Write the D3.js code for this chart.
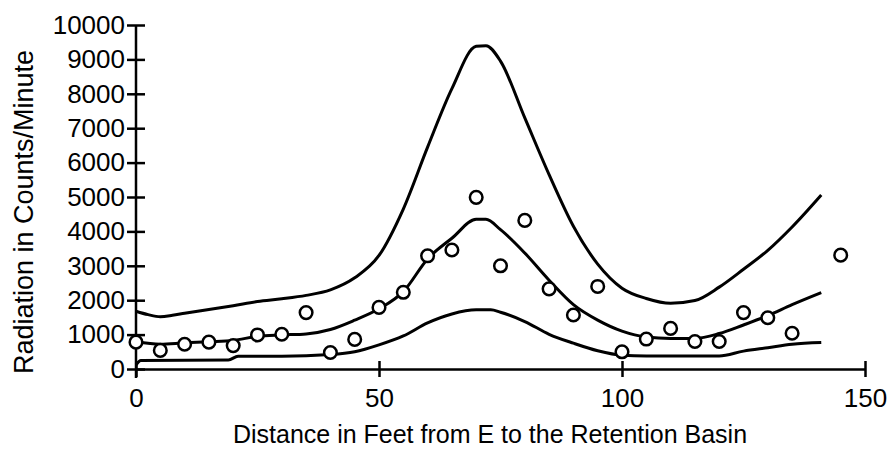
<!DOCTYPE html>
<html><head><meta charset="utf-8">
<script src="https://cdn.jsdelivr.net/npm/d3@7/dist/d3.min.js"></script>
<style>body{margin:0;background:#fff;} svg{display:block;}</style>
</head><body>
<svg id="chart" width="895" height="456"></svg>
<script>
// Observed data points (distance in feet, counts/minute)
const pointX = [0,5,10,15,20,25,30,35,40,45,50,55,60,65,70,75,80,85,90,95,100,105,110,115,120,125,130,135,145];
const pointY = [780,540,720,780,680,990,1010,1640,480,860,1790,2230,3290,3460,4990,3000,4320,2330,1570,2400,500,870,1180,800,800,1640,1490,1040,3310];

// Upper band curve
const upperX = [0,2.5,5,7.5,10,15,20,25,30,35,40,45,50,55,60,65,70,72,75,80,85,90,95,100,105,110,115,120,125,130,135,141];
const upperY = [1680,1580,1520,1560,1620,1730,1840,1960,2040,2140,2300,2650,3300,4650,6450,8150,9380,9400,8950,7300,5650,4150,3050,2350,2050,1910,1990,2380,2900,3450,4130,5060];

// Fitted (middle) curve
const midX = [0,5,10,15,20,25,30,35,40,45,50,55,60,65,70,72,75,80,85,90,95,100,105,110,115,120,125,130,135,141];
const midY = [800,720,760,790,830,950,990,1020,1150,1420,1750,2250,3200,3800,4350,4350,4050,3370,2580,1870,1420,1100,930,890,890,1030,1280,1550,1870,2220];

// Lower band curve
const lowX = [0,1,19,21,30,40,45,50,55,60,65,70,73,75,80,85,90,95,100,105,110,115,120,125,130,135,141];
const lowY = [120,250,260,370,370,420,500,700,960,1340,1600,1720,1720,1650,1380,1010,750,530,400,380,380,380,380,520,620,720,770];

const xTicks = [0,50,100,150];
const yTicks = [0,1000,2000,3000,4000,5000,6000,7000,8000,9000,10000];
const xTitle = "Distance in Feet from E to the Retention Basin";
const yTitle = "Radiation in Counts/Minute";

const svg = d3.select("#chart");
const font = "'Liberation Sans', Arial, Helvetica, sans-serif";
const x = d3.scaleLinear().domain([0,150]).range([136,865]);
const y = d3.scaleLinear().domain([0,10000]).range([369,25]);

// Axes
const gx = svg.append("g").attr("transform","translate(0,369)")
  .call(d3.axisBottom(x).tickValues(xTicks).tickFormat(d3.format("d")).tickSizeInner(8).tickSizeOuter(0).tickPadding(12));
gx.selectAll(".tick line").attr("y1",-8);
const gy = svg.append("g").attr("transform","translate(136,0)")
  .call(d3.axisLeft(y).tickValues(yTicks).tickFormat(d3.format("d")).tickSizeInner(9).tickSizeOuter(0).tickPadding(2));
gy.selectAll(".tick line").attr("x1",9);
[gx,gy].forEach(g=>{
  g.select(".domain").attr("stroke","#000").attr("stroke-width",2.5);
  g.selectAll(".tick line").attr("stroke","#000").attr("stroke-width",2.5);
  g.selectAll(".tick text").attr("fill","#000").style("font-family",font).style("font-size","26px");
});
gy.select(".domain").attr("d","M0,25V378");

// Curves
const line = d3.line().x(d=>x(d[0])).y(d=>y(d[1])).curve(d3.curveMonotoneX);
const curves = [[upperX,upperY],[midX,midY],[lowX,lowY]];
curves.forEach(([xs,ys])=>{
  svg.append("path").datum(xs.map((v,i)=>[v,ys[i]]))
    .attr("d",line).attr("fill","none").attr("stroke","#000")
    .attr("stroke-width",3).attr("stroke-linejoin","round");
});

// Points
svg.append("g").selectAll("circle").data(pointX.map((v,i)=>[v,pointY[i]])).join("circle")
  .attr("cx",d=>x(d[0])).attr("cy",d=>y(d[1])).attr("r",6.3)
  .attr("fill","#fff").attr("stroke","#000").attr("stroke-width",2.5);

// Titles
svg.append("text").attr("x",490).attr("y",443).attr("text-anchor","middle")
  .style("font-family",font).style("font-size","25px").attr("fill","#000").text(xTitle);
svg.append("text").attr("transform","translate(33,212) rotate(-90)").attr("text-anchor","middle")
  .style("font-family",font).style("font-size","27px").attr("fill","#000").text(yTitle);
</script>
</body></html>
